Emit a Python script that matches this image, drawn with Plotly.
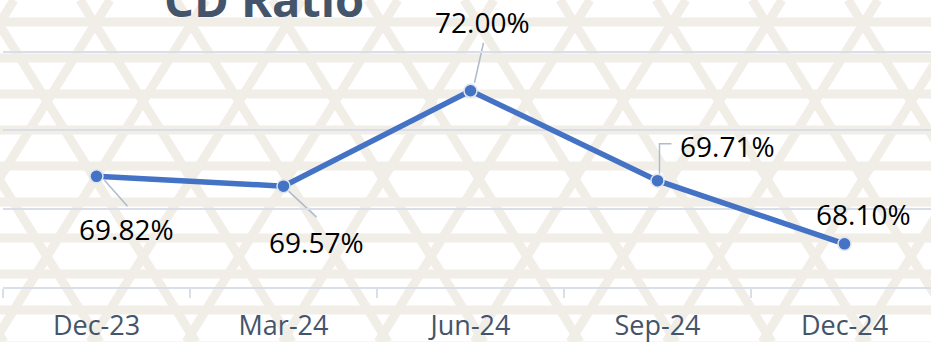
import base64
import plotly.graph_objects as go

# Quarter-end CD ratio (%)
quarters = ["Dec-23", "Mar-24", "Jun-24", "Sep-24", "Dec-24"]
cd_ratio = [69.82, 69.57, 72.00, 69.71, 68.10]
label_text = [f"{v:.2f}%" for v in cd_ratio]

W, H = 931, 342
ML, MR, MT, MB = 3, 0, 0, 55
PW, PH = W - ML - MR, H - MT - MB

LINE_BLUE = "#4472C4"
GRID = "#D9DEE8"
SLATE = "#44546A"
LEADER = "#AFBACB"
FONT = "Open Sans"

# Label offsets from each marker (pixels, +y up) and leader-line paths
label_shift = [(30, -53), (33, -56), (12, 69), (70, 35), (19, 30)]
leader_paths = [
    "M 8,-4 L 31,-30",
    "M 5,-5 L 33,-31",
    "M 4,8 L 13,48",
    "M 2,7 L 2,37 L 14,37",
    None,
]

# Decorative lattice backdrop as an inline SVG
def lattice_svg(w, h):
    band = "#F1EEE8"
    sw = 9
    parts = [f'<svg xmlns="http://www.w3.org/2000/svg" width="{w}" height="{h}" viewBox="0 0 {w} {h}">',
             f'<rect width="{w}" height="{h}" fill="#FFFFFF"/>',
             f'<g stroke="{band}" stroke-width="{sw}" fill="none">']
    y = 22
    while y < h + 20:
        parts.append(f'<line x1="0" y1="{y}" x2="{w}" y2="{y}"/>')
        y += 36
    k = 0.62
    c = -400
    while c < w + 400:
        parts.append(f'<line x1="{c}" y1="0" x2="{c + h * k:.1f}" y2="{h}"/>')
        parts.append(f'<line x1="{c + 30}" y1="0" x2="{c + 30 - h * k:.1f}" y2="{h}"/>')
        c += 96
    parts.append("</g></svg>")
    return "".join(parts)

bg_uri = "data:image/svg+xml;base64," + base64.b64encode(lattice_svg(W, H).encode()).decode()

fig = go.Figure()
fig.add_trace(go.Scatter(
    x=quarters, y=cd_ratio, mode="lines+markers",
    line=dict(color=LINE_BLUE, width=5.5),
    marker=dict(size=13, color=LINE_BLUE, line=dict(color="#DDE4F0", width=1.5)),
    hoverinfo="skip", showlegend=False, cliponaxis=False,
))

annotations = []
shapes = []
for q, v, t, (dx, dy), path in zip(quarters, cd_ratio, label_text, label_shift, leader_paths):
    annotations.append(dict(
        x=q, y=v, xref="x", yref="y", text=t, showarrow=False,
        xshift=dx, yshift=dy, font=dict(family=FONT, size=28, color="#000000"),
    ))
    if path:
        shapes.append(dict(
            type="path", xref="x", yref="y", xsizemode="pixel", ysizemode="pixel",
            xanchor=q, yanchor=v, path=path, layer="below",
            line=dict(color=LEADER, width=1.5),
        ))

annotations.append(dict(
    text="<b>CD Ratio</b>", xref="paper", yref="paper", x=(264 - ML) / PW, y=1,
    xanchor="center", yanchor="bottom", yshift=-33, showarrow=False,
    font=dict(family=FONT, size=47, color=SLATE),
))

fig.update_layout(
    width=W, height=H,
    margin=dict(l=ML, r=MR, t=MT, b=MB, pad=0),
    paper_bgcolor="#FFFFFF", plot_bgcolor="rgba(0,0,0,0)",
    annotations=annotations, shapes=shapes,
    images=[dict(source=bg_uri, xref="paper", yref="paper", x=-ML / PW, y=1,
                 sizex=W / PW, sizey=H / PH, xanchor="left", yanchor="top",
                 sizing="stretch", layer="below")],
    xaxis=dict(
        type="category", categoryorder="array", categoryarray=quarters,
        range=[-0.5, -0.5 + PW / 187.0], tickson="boundaries",
        ticks="outside", ticklen=9, tickcolor=GRID, tickwidth=1.5,
        showline=True, linecolor=GRID, linewidth=1.5, showgrid=False,
        tickfont=dict(family=FONT, size=27, color=SLATE), ticklabelstandoff=14,
    ),
    yaxis=dict(
        range=[67, 67 + PH / 39.25], tickvals=[67, 69, 71, 73],
        showticklabels=False, showgrid=True, gridcolor=GRID, gridwidth=1.5,
        zeroline=False, showline=False,
    ),
)

fig.write_html("out.html")
